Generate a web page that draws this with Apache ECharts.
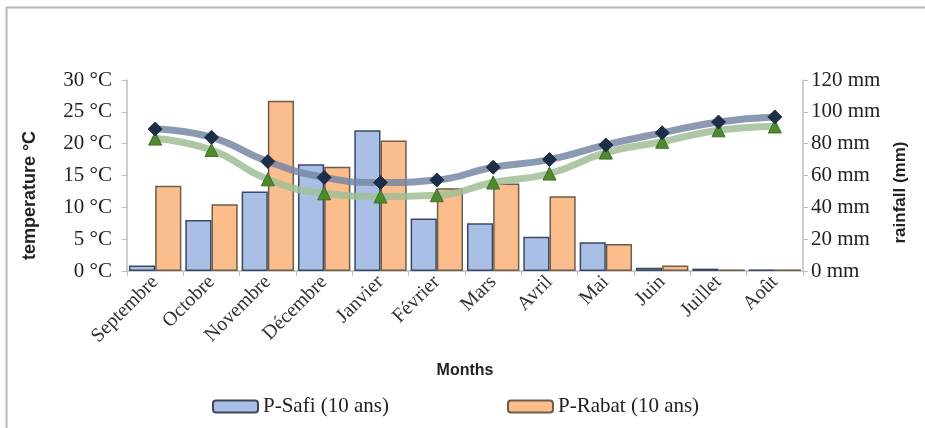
<!DOCTYPE html>
<html>
<head>
<meta charset="utf-8">
<script src="https://cdn.jsdelivr.net/npm/echarts@6/dist/echarts.min.js"></script>
<style>
  html, body { margin: 0; padding: 0; background: #fff; }
  #chart { width: 925px; height: 428px; }
</style>
</head>
<body>
<div id="chart"></div>
<script>
// months (x axis)
const months = ['Septembre', 'Octobre', 'Novembre', 'Décembre', 'Janvier', 'Février',
  'Mars', 'Avril', 'Mai', 'Juin', 'Juillet', 'Août']

// rainfall, mm (bars, right axis)
const rainSafi = [3.5, 32, 50, 67, 88.5, 33, 30, 21.5, 18, 2, 1.5, 1]
const rainRabat = [53.5, 42, 107, 65.5, 82, 52, 55, 47, 17, 3.5, 1, 1]

// temperature, °C (lines, left axis)
const tempSafi = [22.3, 21.0, 17.2, 14.7, 13.9, 14.3, 16.3, 17.5, 19.8, 21.7, 23.4, 24.2]
const tempRabat = [20.8, 19.0, 14.4, 12.2, 11.7, 11.9, 13.9, 15.3, 18.6, 20.3, 22.1, 22.7]

const serif = 'Liberation Serif'
const sans = 'Liberation Sans'

const chart = echarts.init(document.getElementById('chart'))

chart.setOption({
  animation: false,
  grid: {left: 127, right: 122, top: 80, bottom: 157},
  graphic: [
    {type: 'line', shape: {x1: 6, y1: 7.5, x2: 925, y2: 7.5}, style: {stroke: '#b8b8b8', lineWidth: 2}},
    {type: 'line', shape: {x1: 6.5, y1: 7, x2: 6.5, y2: 428}, style: {stroke: '#b8b8b8', lineWidth: 2}}
  ],
  legend: {
    data: ['P-Safi (10 ans)', 'P-Rabat (10 ans)'],
    top: 391,
    left: 207,
    itemWidth: 45,
    itemHeight: 12,
    itemGap: 118,
    textStyle: {fontFamily: serif, fontSize: 21, color: '#222'}
  },
  xAxis: {
    type: 'category',
    data: months,
    name: 'Months',
    nameLocation: 'middle',
    nameGap: 92,
    nameTextStyle: {fontFamily: sans, fontWeight: 'bold', fontSize: 16, color: '#222'},
    axisLine: {lineStyle: {color: '#bfbfbf', width: 1.5}},
    axisTick: {show: true, length: 5, lineStyle: {color: '#bfbfbf'}},
    axisLabel: {rotate: 45, fontFamily: serif, fontSize: 20, color: '#333', margin: 8}
  },
  yAxis: [
    {
      type: 'value', min: 0, max: 30, interval: 5,
      name: 'temperature °C',
      nameLocation: 'middle',
      nameGap: 88,
      nameTextStyle: {fontFamily: sans, fontWeight: 'bold', fontSize: 18, color: '#222', padding: [0, 0, 0, -40]},
      axisLine: {show: true, lineStyle: {color: '#bfbfbf', width: 1.5}},
      axisTick: {show: true, length: 5, lineStyle: {color: '#bfbfbf'}},
      splitLine: {show: false},
      axisLabel: {formatter: '{value} °C', fontFamily: serif, fontSize: 21, color: '#222', margin: 15}
    },
    {
      type: 'value', min: 0, max: 120, interval: 20,
      name: 'rainfall (mm)',
      nameLocation: 'middle',
      nameGap: 86,
      nameTextStyle: {fontFamily: sans, fontWeight: 'bold', fontSize: 17, color: '#222', padding: [0, 0, 0, -34]},
      axisLine: {show: true, lineStyle: {color: '#bfbfbf', width: 1.5}},
      axisTick: {show: true, length: 5, lineStyle: {color: '#bfbfbf'}},
      splitLine: {show: false},
      axisLabel: {formatter: '{value} mm', fontFamily: serif, fontSize: 21, color: '#222', margin: 8}
    }
  ],
  series: [
    {
      name: 'P-Safi (10 ans)', type: 'bar', yAxisIndex: 1,
      barGap: '0%', barCategoryGap: '7%',
      itemStyle: {color: '#a9bfe6', borderColor: '#3a4862', borderWidth: 1.5},
      data: rainSafi
    },
    {
      name: 'P-Rabat (10 ans)', type: 'bar', yAxisIndex: 1,
      itemStyle: {color: '#fbbd8c', borderColor: '#6a5e4c', borderWidth: 1.5},
      data: rainRabat
    },
    {
      name: 'T-Rabat', type: 'line', yAxisIndex: 0, smooth: true,
      symbol: 'triangle', symbolSize: 13,
      lineStyle: {color: 'rgba(160,190,150,0.85)', width: 7},
      itemStyle: {color: '#4f8a2e', borderColor: '#3e6f24', borderWidth: 1},
      data: tempRabat
    },
    {
      name: 'T-Safi', type: 'line', yAxisIndex: 0, smooth: true,
      symbol: 'diamond', symbolSize: 14,
      lineStyle: {color: 'rgba(120,135,165,0.85)', width: 7},
      itemStyle: {color: '#1f2e48', borderColor: '#1f2e48', borderWidth: 1},
      data: tempSafi
    }
  ]
})
</script>
</body>
</html>
